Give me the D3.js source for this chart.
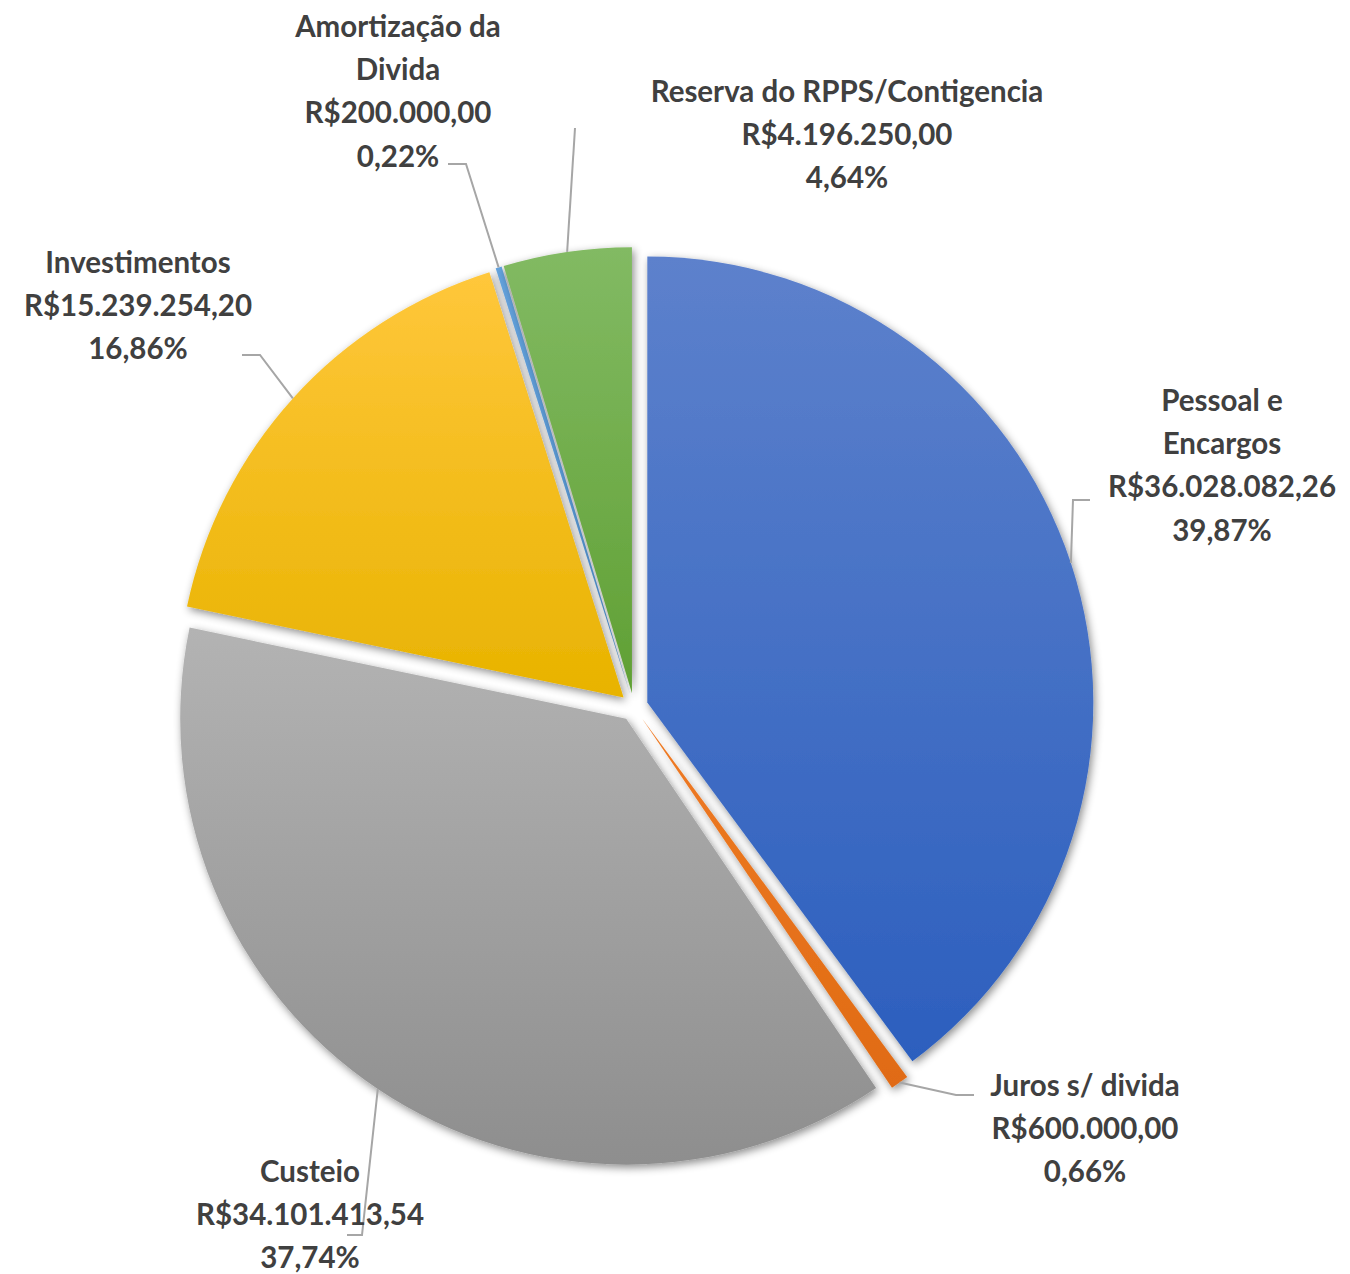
<!DOCTYPE html>
<html lang="pt-BR">
<head>
  <meta charset="UTF-8">
  <title>Despesas</title>
  <script src="https://d3js.org/d3.v7.min.js"></script>
  <style>
    body { margin: 0; background: #fff; }
    text { font-family: Lato, "Open Sans", sans-serif; font-weight: 700; fill: #404040; }
  </style>
</head>
<body>
  <svg id="chart"></svg>

  <script>
    // data
    const categories = ["Pessoal e Encargos", "Juros s/ divida", "Custeio", "Investimentos", "Amortização da Divida", "Reserva do RPPS/Contigencia"];
    const values = [36028082.26, 600000.00, 34101413.54, 15239254.20, 200000.00, 4196250.00];

    // label name lines (as wrapped in the original)
    const nameLines = [["Pessoal e", "Encargos"], ["Juros s/ divida"], ["Custeio"], ["Investimentos"], ["Amortização da", "Divida"], ["Reserva do RPPS/Contigencia"]];

    const colorsTop = ["#5d81cc", "#ee7a24", "#b3b3b3", "#ffc73b", "#64a2dc", "#82ba63"];
    const colorsBottom = ["#2c5fbe", "#e06b14", "#8e8e8e", "#e8b300", "#4f8fcb", "#60a034"];

    // label layout: center x, first baseline, and leader elbow/end points
    const labelLayout = [
      { x: 1222, y: 411, elbow: [1073, 500], end: [1090, 500] },
      { x: 1085, y: 1096, elbow: [956, 1095], end: [974, 1095] },
      { x: 310, y: 1182, elbow: [362, 1235], end: [347, 1235] },
      { x: 138, y: 273, elbow: [260, 355], end: [242, 355] },
      { x: 398, y: 37, elbow: [466, 164], end: [448, 164] },
      { x: 847, y: 102, elbow: null, end: [575, 128] }
    ];

    const width = 1350, height = 1274;
    const cx = 634, cy = 707, radius = 446, explode = 14;
    const lineH = 43.2;

    const locale = d3.formatLocale({ decimal: ",", thousands: ".", grouping: [3], currency: ["R$", ""] });
    const fmtMoney = locale.format("$,.2f");
    const fmtPct = locale.format(".2%");

    const svg = d3.select("#chart").attr("width", width).attr("height", height);
    const defs = svg.append("defs");

    const shadow = defs.append("filter").attr("id", "shadow")
      .attr("x", "-20%").attr("y", "-20%").attr("width", "140%").attr("height", "140%");
    shadow.append("feDropShadow")
      .attr("dx", 2).attr("dy", 3).attr("stdDeviation", 4)
      .attr("flood-color", "#000").attr("flood-opacity", 0.45);

    categories.forEach((c, i) => {
      const g = defs.append("linearGradient").attr("id", "grad" + i)
        .attr("x1", 0).attr("y1", 0).attr("x2", 0).attr("y2", 1);
      g.append("stop").attr("offset", "0%").attr("stop-color", colorsTop[i]);
      g.append("stop").attr("offset", "100%").attr("stop-color", colorsBottom[i]);
    });

    const total = d3.sum(values);
    const pie = d3.pie().sort(null).value(d => d)(values);
    const arc = d3.arc().innerRadius(0).outerRadius(radius);

    const dir = a => [Math.sin(a), -Math.cos(a)];

    const slices = svg.append("g").attr("transform", `translate(${cx},${cy})`);
    slices.selectAll("path")
      .data(pie)
      .join("path")
      .attr("transform", d => {
        const [dx, dy] = dir((d.startAngle + d.endAngle) / 2);
        return `translate(${dx * explode},${dy * explode})`;
      })
      .attr("d", arc)
      .attr("fill", (d, i) => `url(#grad${i})`)
      .attr("filter", "url(#shadow)");

    // leader lines
    const leaders = svg.append("g");
    pie.forEach((d, i) => {
      const [dx, dy] = dir((d.startAngle + d.endAngle) / 2);
      const start = [cx + dx * (radius + explode), cy + dy * (radius + explode)];
      const L = labelLayout[i];
      const pts = L.elbow ? [start, L.elbow, L.end] : [start, L.end];
      leaders.append("path")
        .attr("d", d3.line()(pts))
        .attr("fill", "none")
        .attr("stroke", "#a6a6a6")
        .attr("stroke-width", 2);
    });

    // labels
    const labels = svg.append("g");
    categories.forEach((c, i) => {
      const L = labelLayout[i];
      const lines = nameLines[i].concat([fmtMoney(values[i]), fmtPct(values[i] / total)]);
      const t = labels.append("text").attr("text-anchor", "middle").style("font-size", "29.5px");
      lines.forEach((s, k) => {
        t.append("tspan").attr("x", L.x).attr("y", L.y + k * lineH).text(s);
      });
    });
  </script>
</body>
</html>
